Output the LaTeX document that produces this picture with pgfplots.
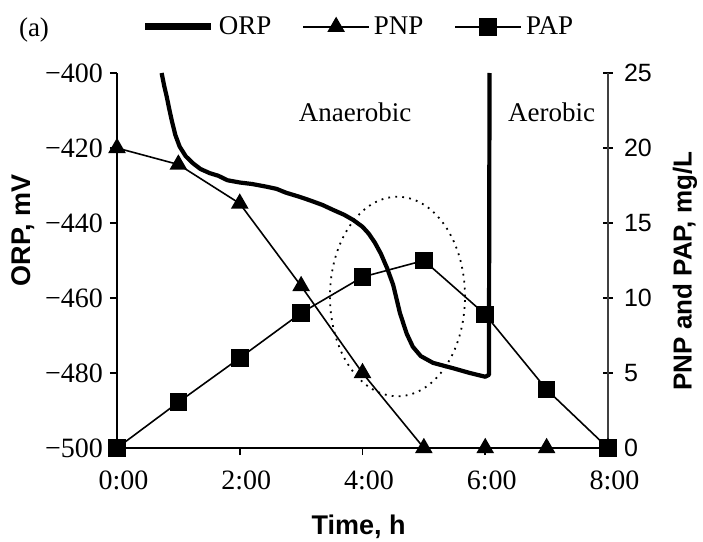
\documentclass[border=0pt]{standalone}
\usepackage{fontspec}
\setmainfont{Liberation Serif}
\setsansfont{Liberation Sans}
\usepackage{pgfplots}
\pgfplotsset{compat=1.18}

\newcommand{\serifsz}{\fontsize{13.5bp}{15bp}\selectfont}
\newcommand{\ticksz}{\fontsize{14bp}{16bp}\selectfont}
\newcommand{\labsz}{\sffamily\bfseries\fontsize{13.5bp}{15bp}\selectfont}

\pgfplotsset{
  common/.style={
    scale only axis, width=245.5bp, height=187.5bp,
    at={(0,0)}, anchor=south west,
    xmin=0, xmax=8,
    axis line style={-},
  },
}

\begin{document}
\begin{tikzpicture}
\path[use as bounding box] (-58.5bp,-47bp) rectangle (293bp,224bp);

% ORP on the left axis
\begin{axis}[common,
  ymin=-500, ymax=-400,
  axis x line*=bottom, axis y line*=left,
  x axis line style={line width=1.1bp},
  y axis line style={line width=1bp},
  xtick={0,2,4,6,8},
  xticklabels={0:00,2:00,4:00,6:00,8:00},
  ytick={-500,-480,-460,-440,-420,-400},
  yticklabels={−500,−480,−460,−440,−420,−400},
  tick align=outside,
  major tick length=3.5bp,
  tick style={black, line width=0.8bp},
  tick label style={font=\ticksz},
  xticklabel style={xshift=3.3bp, yshift=-4.5bp},
  xlabel={Time, h}, ylabel={ORP, mV},
  label style={font=\labsz},
  xlabel style={at={(axis description cs:0.492,-0.211)}, anchor=center},
  ylabel style={at={(axis description cs:-0.191,0.581)}, anchor=center},
]
\addplot[black, line width=2.1bp, line join=round] coordinates {
  (0.727,-400) (0.77,-403.5) (0.81,-406.3) (0.85,-409.5) (0.89,-412.5)
  (0.95,-416.5) (1.02,-419.6) (1.12,-422.2) (1.24,-424.1) (1.36,-425.6)
  (1.51,-426.7) (1.65,-427.4) (1.8,-428.6) (2.0,-429.2) (2.2,-429.6)
  (2.43,-430.3) (2.6,-430.9) (2.75,-431.9) (2.97,-433.0) (3.15,-434.0)
  (3.35,-435.2) (3.52,-436.5) (3.7,-437.8) (3.85,-439.2) (4.0,-441.0)
  (4.1,-442.8) (4.2,-445.2) (4.3,-448.2) (4.4,-452.0) (4.5,-456.5)
  (4.61,-464.0) (4.72,-469.5) (4.82,-473.0) (4.95,-475.5) (5.15,-477.3)
  (5.47,-478.7) (5.75,-480.0) (6.0,-481.0) (6.06,-480.5) (6.07,-400)
};
\draw[line width=0.9bp, dash pattern=on 0.9bp off 2.6bp]
  (axis cs:4.57,-459.6) ellipse [x radius=1.1, y radius=26.6];
\node[font=\serifsz] at (axis cs:3.88,-410.4) {Anaerobic};
\node[font=\serifsz] at (axis cs:7.08,-410.4) {Aerobic};
\end{axis}

% PNP and PAP on the right axis
\begin{axis}[common,
  ymin=0, ymax=25,
  axis x line=none, axis y line*=right,
  y axis line style={line width=0.6bp, black!75},
  ytick={0,5,10,15,20,25},
  tick align=center,
  major tick length=5bp,
  tick style={black, line width=0.8bp},
  yticklabel style={font=\sffamily\fontsize{12.5bp}{14bp}\selectfont, xshift=2bp},
  /pgf/number format/assume math mode=true,
  ylabel={PNP and PAP, mg/L},
  ylabel style={font=\sffamily\bfseries\fontsize{13bp}{15bp}\selectfont,
    inner sep=0pt, at={(axis description cs:1.157,0.472)}, anchor=center},
  legend columns=3,
  legend style={draw=none, fill=none, font=\serifsz,
    at={(axis description cs:0.0376,1.123)}, anchor=west,
    /tikz/every even column/.append style={column sep=13.5bp}},
  legend image code/.code={%
    \draw[mark repeat=2, mark phase=2, #1]
      plot coordinates {(0bp,0bp) (16.5bp,0bp) (33bp,0bp)};},
]
\addlegendimage{black, line width=3.5bp}
\addlegendentry{ORP}
\addplot[black, line width=0.8bp, mark=triangle*, mark size=4.3bp,
  mark options={solid}] coordinates {
  (0,20) (1,18.9) (2,16.3) (3,10.8) (4,5) (5,0) (6,0) (7,0) (8,0)
};
\addlegendentry{PNP}
\addplot[black, line width=0.8bp, mark=square*, mark size=4bp,
  mark options={solid}] coordinates {
  (0,0) (1,3.05) (2,6.0) (3,9.0) (4,11.4) (5,12.5) (6,8.9) (7,3.9) (8,0)
};
\addlegendentry{PAP}
\end{axis}

\node[font=\serifsz] at (-41.5bp,209bp) {(a)};
\end{tikzpicture}
\end{document}
